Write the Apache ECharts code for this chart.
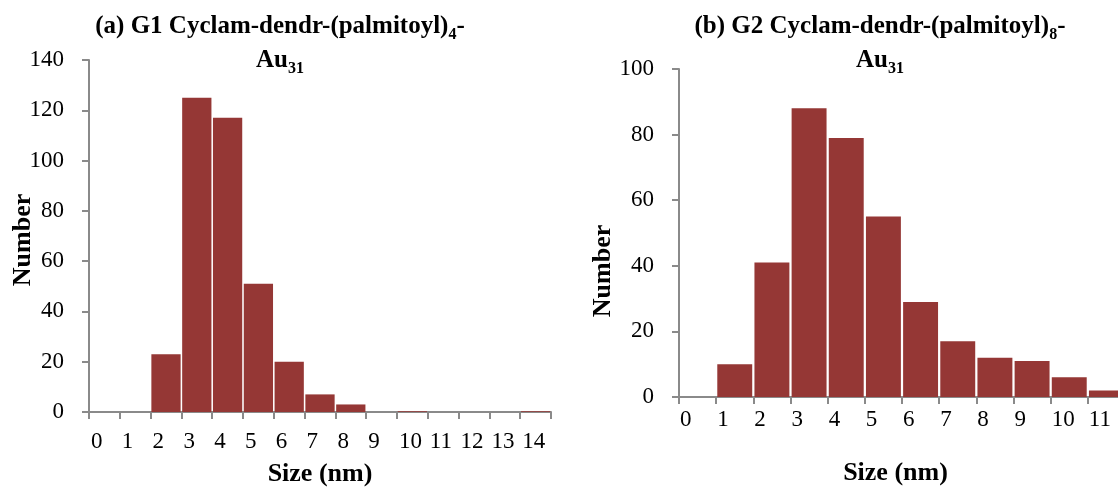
<!DOCTYPE html>
<html>
<head>
<meta charset="utf-8">
<script src="https://cdn.jsdelivr.net/npm/echarts@6/dist/echarts.min.js"></script>
<style>
  html, body { margin: 0; padding: 0; background: #ffffff; }
  #chart { width: 1118px; height: 490px; }
</style>
</head>
<body>
<div id="chart"></div>
<script>
// Size bins (nm) and particle counts for each sample
const sizesA = ['0', '1', '2', '3', '4', '5', '6', '7', '8', '9', '10', '11', '12', '13', '14'];
const countsA = [0, 0, 23, 125, 117, 51, 20, 7, 3, 0, 0.3, 0, 0, 0, 0.3];

const sizesB = ['0', '1', '2', '3', '4', '5', '6', '7', '8', '9', '10', '11'];
const countsB = [0, 10, 41, 88, 79, 55, 29, 17, 12, 11, 6, 2];

// Count axis ranges
const yMaxA = 140;
const yMaxB = 100;
const yStep = 20;

const SERIF = '"Liberation Serif", "Times New Roman", Times, serif';
const AXIS = '#8a8a8a';
const BAR = '#953735';

const gridA = { left: 89, top: 60, width: 462, height: 352 };
const gridB = { left: 679, top: 69, width: 446, height: 328 };

// Bin labels sit at the left side of each bin, inside a fixed-width block
function xAxisFor(gridIndex, cats, catW, labelMargin, nameGap, namePad) {
  return {
    type: 'category',
    gridIndex: gridIndex,
    data: cats,
    axisLine: { show: true, lineStyle: { color: AXIS, width: 2 } },
    axisTick: { show: true, length: 7, lineStyle: { color: AXIS, width: 2 } },
    axisLabel: {
      interval: 0,
      margin: labelMargin,
      formatter: function (v) { return '{t|' + v + '}'; },
      rich: { t: { width: catW, align: 'left', fontFamily: SERIF, fontSize: 23, color: '#000' } }
    },
    splitLine: { show: false },
    name: 'Size (nm)',
    nameLocation: 'middle',
    nameGap: nameGap,
    nameMoveOverlap: false,
    nameTextStyle: { fontFamily: SERIF, fontWeight: 'bold', fontSize: 26, color: '#000', padding: namePad }
  };
}

function yAxisFor(gridIndex, max, nameGap, namePad) {
  return {
    type: 'value',
    gridIndex: gridIndex,
    min: 0,
    max: max,
    interval: yStep,
    axisLine: { show: true, lineStyle: { color: AXIS, width: 2 } },
    axisTick: { show: true, length: 7, lineStyle: { color: AXIS, width: 2 } },
    axisLabel: { margin: 25, fontFamily: SERIF, fontSize: 23, color: '#000' },
    splitLine: { show: false },
    name: 'Number',
    nameLocation: 'middle',
    nameRotate: 90,
    nameGap: nameGap,
    nameMoveOverlap: false,
    nameTextStyle: { fontFamily: SERIF, fontWeight: 'bold', fontSize: 26, color: '#000', padding: namePad }
  };
}

// Title text with lowered subscripts
const titleRich = {
  m: { fontFamily: SERIF, fontWeight: 'bold', fontSize: 25, lineHeight: 34, verticalAlign: 'middle', align: 'center', fill: '#000' },
  s: { fontFamily: SERIF, fontWeight: 'bold', fontSize: 16, height: 18, verticalAlign: 'bottom', align: 'center', fill: '#000' }
};

function barSeries(idx, data, gap) {
  return {
    type: 'bar',
    xAxisIndex: idx,
    yAxisIndex: idx,
    data: data,
    barCategoryGap: gap,
    itemStyle: { color: BAR, borderWidth: 0 },
    silent: true,
    animation: false
  };
}

const chart = echarts.init(document.getElementById('chart'), null, { renderer: 'canvas' });

chart.setOption({
  backgroundColor: '#ffffff',
  animation: false,
  grid: [
    Object.assign({ outerBoundsMode: 'none', containLabel: false }, gridA),
    Object.assign({ outerBoundsMode: 'none', containLabel: false }, gridB)
  ],
  xAxis: [
    xAxisFor(0, sizesA, gridA.width / sizesA.length - 4, 18, 49, [0, 0, 0, 0]),
    xAxisFor(1, sizesB, gridB.width / sizesB.length - 2, 11, 63, [0, 13, 0, 0])
  ],
  yAxis: [
    yAxisFor(0, yMaxA, 53, [0, 8, 0, 0]),
    yAxisFor(1, yMaxB, 63, [0, 76, 0, 0])
  ],
  series: [
    barSeries(0, countsA, '5%'),
    barSeries(1, countsB, '6%')
  ],
  graphic: [
    {
      type: 'text', x: 280, y: 10, silent: true,
      style: {
        text: '{m|(a) G1 Cyclam-dendr-(palmitoyl)}{s|4}{m|-}\n{m|Au}{s|31}',
        align: 'center', verticalAlign: 'top', fill: '#000', rich: titleRich
      }
    },
    {
      type: 'text', x: 880, y: 10, silent: true,
      style: {
        text: '{m|(b) G2 Cyclam-dendr-(palmitoyl)}{s|8}{m|-}\n{m|Au}{s|31}',
        align: 'center', verticalAlign: 'top', fill: '#000', rich: titleRich
      }
    }
  ]
});
</script>
</body>
</html>
